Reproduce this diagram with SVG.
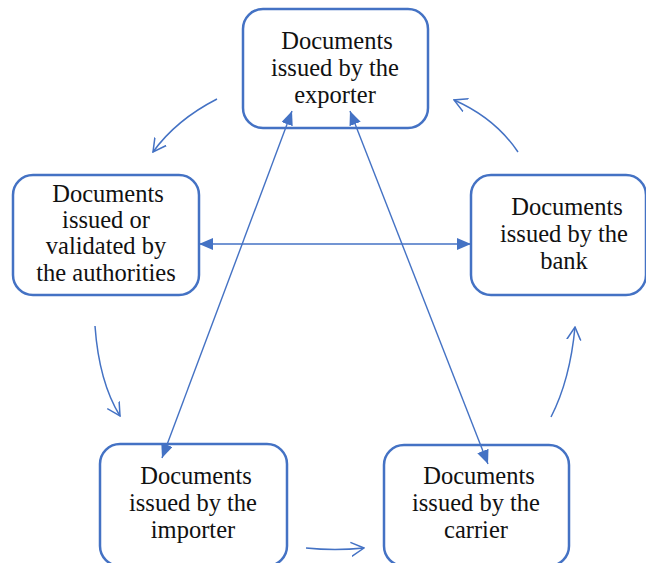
<svg xmlns="http://www.w3.org/2000/svg" width="646" height="563" viewBox="0 0 646 563">
<defs>
<style>
.box{fill:#ffffff;stroke:#4472C4;stroke-width:2.5}
.lbl{font-family:'Liberation Serif','DejaVu Serif',serif;font-size:24.5px;fill:#111111;text-anchor:middle}
.ln{fill:none;stroke:#4472C4;stroke-width:1.4}
.cv{fill:none;stroke:#4472C4;stroke-width:1.5}
</style>
<marker id="tri" viewBox="0 0 14 12" refX="14" refY="6" markerWidth="14" markerHeight="12" markerUnits="userSpaceOnUse" orient="auto-start-reverse">
<path d="M0,0 L14,6 L0,12 Z" fill="#4472C4"/>
</marker>
<marker id="open" viewBox="0 0 14 16" refX="13" refY="8" markerWidth="14" markerHeight="16" markerUnits="userSpaceOnUse" orient="auto">
<path d="M0,1 L13,8 L0,15" fill="none" stroke="#4472C4" stroke-width="1.5"/>
</marker>
</defs>
<g id="exporter">
<rect class="box" x="243" y="9" width="185" height="119" rx="20"/>
<text class="lbl" x="337" y="49">Documents</text>
<text class="lbl" x="335" y="76">issued by the</text>
<text class="lbl" x="335" y="103">exporter</text>
</g>
<g id="authorities">
<rect class="box" x="13" y="175" width="186" height="120" rx="20"/>
<text class="lbl" x="108" y="202">Documents</text>
<text class="lbl" x="106" y="228">issued or</text>
<text class="lbl" x="106" y="254">validated by</text>
<text class="lbl" x="106" y="281">the authorities</text>
</g>
<g id="bank">
<rect class="box" x="471" y="175" width="175" height="120" rx="20"/>
<text class="lbl" x="567" y="215">Documents</text>
<text class="lbl" x="564" y="242">issued by the</text>
<text class="lbl" x="564" y="269">bank</text>
</g>
<g id="importer">
<rect class="box" x="100" y="444" width="187" height="122" rx="20"/>
<text class="lbl" x="196" y="484">Documents</text>
<text class="lbl" x="193" y="511">issued by the</text>
<text class="lbl" x="193" y="538">importer</text>
</g>
<g id="carrier">
<rect class="box" x="384" y="445" width="185" height="121" rx="20"/>
<text class="lbl" x="479" y="484">Documents</text>
<text class="lbl" x="476" y="511">issued by the</text>
<text class="lbl" x="476" y="538">carrier</text>
</g>
<g id="connectors">
<line class="ln" x1="199" y1="244" x2="471" y2="244" marker-start="url(#tri)" marker-end="url(#tri)"/>
<line class="ln" x1="162" y1="458" x2="292" y2="111" marker-start="url(#tri)" marker-end="url(#tri)"/>
<line class="ln" x1="350" y1="111" x2="488" y2="464" marker-start="url(#tri)" marker-end="url(#tri)"/>
<path class="cv" d="M217,99 Q176,120 153,152" marker-end="url(#open)"/>
<path class="cv" d="M518,152 Q495,118 454,100" marker-end="url(#open)"/>
<path class="cv" d="M95,326 Q99,382 120,416" marker-end="url(#open)"/>
<path class="cv" d="M551,417 Q570,380 575,327" marker-end="url(#open)"/>
<path class="cv" d="M306,548 Q335,551 364,548" marker-end="url(#open)"/>
</g>
</svg>
